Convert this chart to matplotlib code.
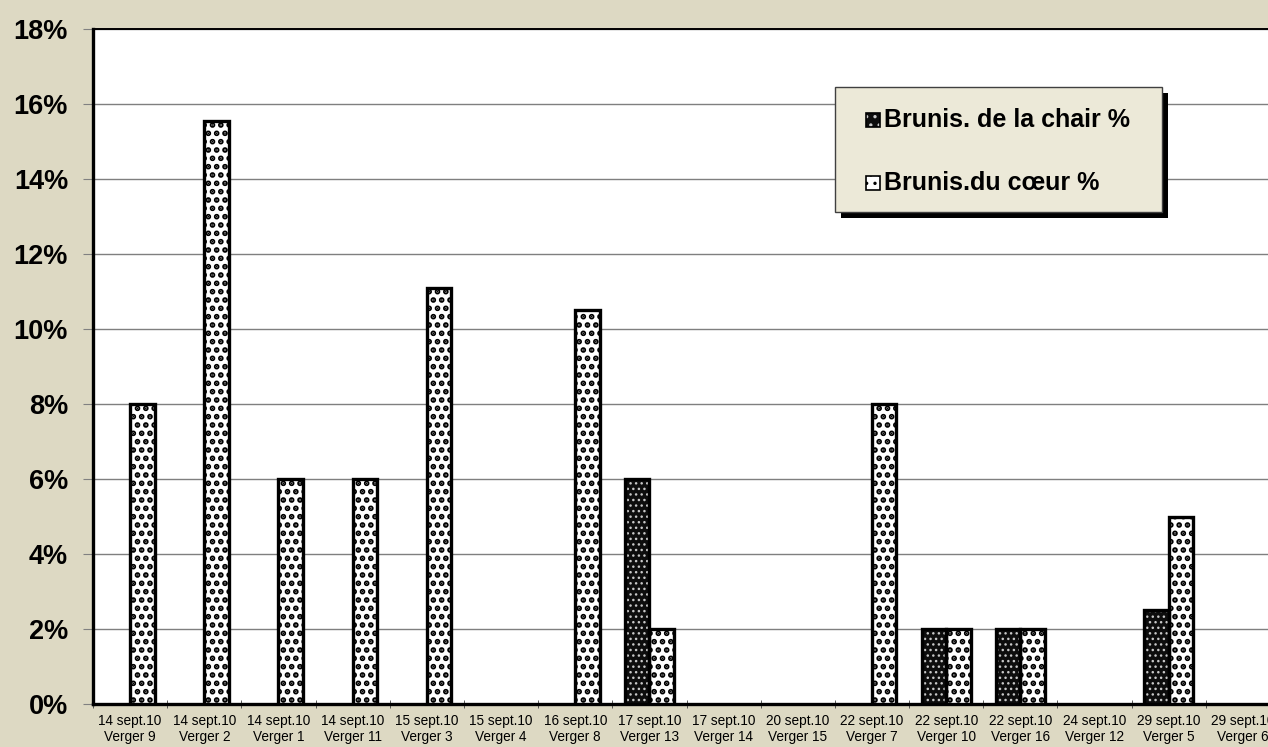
import matplotlib.pyplot as plt
import matplotlib.patches as mpatches
import numpy as np

plt.rcParams['font.family'] = ['Liberation Sans', 'DejaVu Sans']

dates = ['14 sept.10', '14 sept.10', '14 sept.10', '14 sept.10', '15 sept.10', '15 sept.10',
         '16 sept.10', '17 sept.10', '17 sept.10', '20 sept.10', '22 sept.10', '22 sept.10',
         '22 sept.10', '24 sept.10', '29 sept.10', '29 sept.10']
vergers = ['Verger 9', 'Verger 2', 'Verger 1', 'Verger 11', 'Verger 3', 'Verger 4',
           'Verger 8', 'Verger 13', 'Verger 14', 'Verger 15', 'Verger 7', 'Verger 10',
           'Verger 16', 'Verger 12', 'Verger 5', 'Verger 6']
series_names = ['Brunis. de la chair %', 'Brunis.du cœur %']
chair = [0, 0, 0, 0, 0, 0, 0, 6, 0, 0, 0, 2, 2, 0, 2.5, 0]
coeur = [8, 15.55, 6, 6, 11.1, 0, 10.5, 2, 0, 0, 8, 2, 2, 0, 5, 0]

W, H = 1268, 747
bg = '#DDD9C3'
fig = plt.figure(figsize=(W / 100, H / 100), dpi=100, facecolor=bg)
ax = fig.add_axes([93 / W, 43 / H, 1187 / W, 675 / H])
ax.set_facecolor('white')

x = np.arange(len(vergers))
w = 0.33

# dark and light dotted patterns
dark_style = dict(face='#0d0d0d', hatch='...', hcolor='#c8c8c8', hlw=1.0)
light_style = dict(face='white', hatch='..', hcolor='black', hlw=2.8)


def hatched_bars(pos, vals, face, hatch, hcolor, hlw):
    pos = np.asarray(pos)
    vals = np.asarray(vals, dtype=float)
    keep = vals > 0
    ax.bar(pos[keep], vals[keep], w, color=face, edgecolor='none', zorder=3)
    with plt.rc_context({'hatch.linewidth': hlw}):
        ax.bar(pos[keep], vals[keep], w, color='none', edgecolor=hcolor, hatch=hatch,
               linewidth=0, zorder=3)
    ax.bar(pos[keep], vals[keep], w, color='none', edgecolor='black', linewidth=2.4, zorder=4)


hatched_bars(x - w / 2, chair, **dark_style)
hatched_bars(x + w / 2, coeur, **light_style)

ax.set_xlim(-0.5, len(vergers) - 0.5)
ax.set_ylim(0, 18)
ax.set_yticks(np.arange(0, 19, 2))
ax.set_yticklabels([f'{v}%' for v in range(0, 19, 2)], fontsize=19.5, fontweight='bold')
ax.yaxis.grid(True, color='#7f7f7f', linewidth=1, zorder=0)
ax.set_axisbelow(True)

ax.set_xticks(x)
ax.set_xticklabels([f'{d}\n{v}' for d, v in zip(dates, vergers)], fontsize=9.8, linespacing=1.2)
ax.tick_params(axis='x', length=0, pad=7)
ax.set_xticks(np.arange(-0.5, len(vergers)), minor=True)
ax.tick_params(axis='x', which='minor', length=6, direction='inout', color='#404040')
ax.tick_params(axis='y', length=7, color='#808080', pad=11)

for side in ['left', 'bottom']:
    ax.spines[side].set_linewidth(2.4)
ax.spines['top'].set_linewidth(1.4)
ax.spines['right'].set_visible(False)


# legend box drawn in pixel units (origin top-left)
def px(x0, y0):
    return x0 / W, 1 - y0 / H


box_l, box_t, box_r, box_b = 835, 87, 1162, 212
shadow = 6
fig.patches.append(mpatches.Rectangle(px(box_l + shadow, box_b + shadow),
                                      (box_r - box_l) / W, (box_b - box_t) / H,
                                      transform=fig.transFigure, facecolor='black',
                                      edgecolor='none', zorder=9))
fig.patches.append(mpatches.Rectangle(px(box_l, box_b), (box_r - box_l) / W, (box_b - box_t) / H,
                                      transform=fig.transFigure, facecolor='#ECE9D8',
                                      edgecolor='#404040', linewidth=1.0, zorder=10))
for name, style, yc in zip(series_names, [dark_style, light_style], [120, 183]):
    sq = 14
    with plt.rc_context({'hatch.linewidth': 1.2}):
        fig.patches.append(mpatches.Rectangle(px(866, yc + sq / 2), sq / W, sq / H,
                                              transform=fig.transFigure,
                                              facecolor=style['face'], edgecolor=style['hcolor'],
                                              hatch='..', linewidth=0, zorder=11))
    fig.patches.append(mpatches.Rectangle(px(866, yc + sq / 2), sq / W, sq / H,
                                          transform=fig.transFigure, facecolor='none',
                                          edgecolor='black', linewidth=1.2, zorder=12))
    fig.text(*px(884, yc), name, fontsize=18, fontweight='bold', va='center', ha='left',
             zorder=12)

fig.savefig('out.png', dpi=100, facecolor=bg)
